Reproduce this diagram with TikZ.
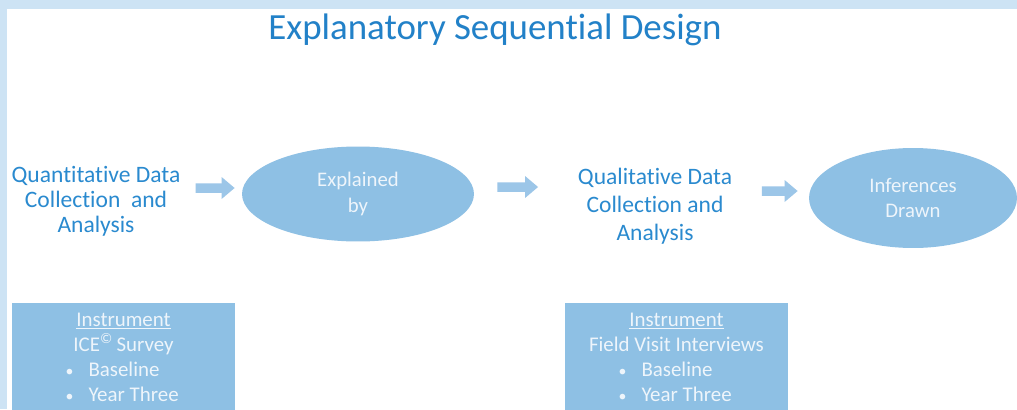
\documentclass[tikz,border=0pt]{standalone}
\usepackage{fontspec}
\setmainfont{Carlito}[Ligatures=CommonOff]
\usetikzlibrary{arrows.meta,shapes.geometric,positioning}
\definecolor{framebg}{HTML}{CDE3F4}
\definecolor{titleblue}{HTML}{2281C8}
\definecolor{textblue}{HTML}{2A8ACF}
\definecolor{ovalfill}{HTML}{8EC0E4}
\definecolor{arrowfill}{HTML}{9CC6E8}
\definecolor{paletext}{HTML}{EEF5FB}
\newcommand{\bitem}[1]{\makebox[2.32cm][l]{\makebox[0.46cm][l]{\small\textbullet}#1}}
\tikzset{%
  >={Triangle[width=0.42cm,length=0.26cm]},
  % Specifications for style of nodes:
        base/.style = {inner sep=0pt, align=center,
                       font=\fontsize{13.4}{14.2}\selectfont},
   plaintext/.style = {base, text=textblue},
     ovalbox/.style = {base, ellipse, fill=ovalfill, text=paletext,
                       font=\fontsize{11.8}{14.7}\selectfont},
     infobox/.style = {base, rectangle, fill=ovalfill, text=paletext,
                       minimum width=4.46cm, minimum height=2.16cm,
                       font=\fontsize{11.9}{14.2}\selectfont},
        flow/.style = {->, draw=arrowfill, line width=0.19cm},
}
\begin{document}
\begin{tikzpicture}[x=0.02cm, y=0.02cm]
  \useasboundingbox (0,0) rectangle (1017,-409);
  \clip (0,0) rectangle (1017,-409);
  % frame
  \fill[framebg] (0,0) rectangle (1017,-409);
  \fill[white] (7,-9) rectangle (1017,-409);

  % Specification of nodes (position, etc.)
  \node (title)    [text=titleblue, font=\fontsize{21}{24}\selectfont] at (495,-30) {Explanatory Sequential Design};
  \node (quant)    [plaintext] at (96,-201) {Quantitative Data\\Collection\ \ and\\Analysis};
  \node (expl)     [ovalbox, minimum width=4.64cm, minimum height=1.9cm] at (358,-194) {Explained\\by};
  \node (qual)     [plaintext, font=\fontsize{13.4}{15.9}\selectfont] at (655,-206) {Qualitative Data\\Collection and\\Analysis};
  \node (infer)    [ovalbox, minimum width=4.16cm, minimum height=2cm] at (913,-198) {Inferences\\Drawn};
  \node (quantbox) [infobox] at (123.5,-357) {\underline{Instrument}\\ICE\smash{\textsuperscript{\textcopyright}}\,Survey\\\bitem{Baseline}\\\bitem{Year Three}};
  \node (qualbox)  [infobox] at (676.5,-357) {\underline{Instrument}\\Field Visit Interviews\\\bitem{Baseline}\\\bitem{Year Three}};

  \draw[flow, shorten <=0.3cm, shorten >=0.14cm]  ([yshift=0.26cm]quant.east) -- ([yshift=0.12cm]expl.west);
  \draw[flow, shorten <=0.46cm, shorten >=0.79cm] ([yshift=0.14cm]expl.east) -- ([yshift=0.38cm]qual.west);
  \draw[flow, shorten <=0.59cm, shorten >=0.22cm] ([yshift=0.3cm]qual.east) -- ([yshift=0.14cm]infer.west);
\end{tikzpicture}
\end{document}
